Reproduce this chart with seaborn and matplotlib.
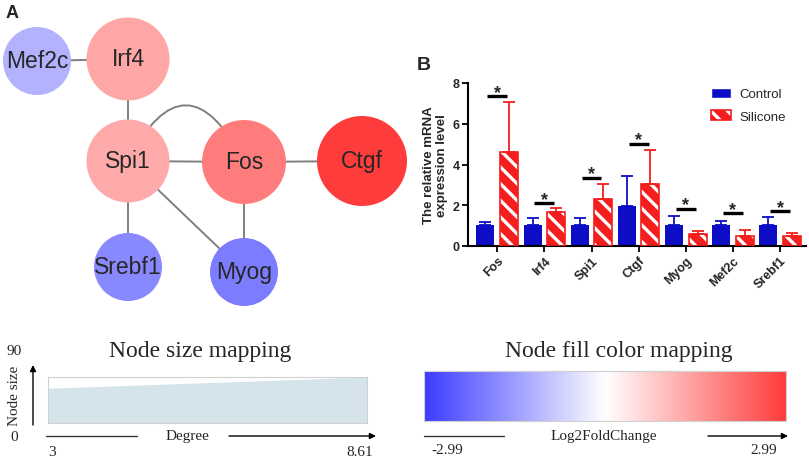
import matplotlib
matplotlib.use("Agg")
import matplotlib.pyplot as plt
import numpy as np
import pandas as pd
import seaborn as sns
from matplotlib.colors import LinearSegmentedColormap, Normalize
from matplotlib.legend_handler import HandlerTuple
from matplotlib.patches import Circle, PathPatch, Patch, Rectangle
from matplotlib.path import Path

# ---- panel B: qPCR data ----
genes = ["Fos", "Irf4", "Spi1", "Ctgf", "Myog", "Mef2c", "Srebf1"]
groups = ["Control", "Silicone"]
control_mean = [1.05, 1.05, 1.05, 1.97, 1.05, 1.05, 1.05]
control_err = [0.15, 0.33, 0.30, 1.47, 0.43, 0.20, 0.37]
silicone_mean = [4.60, 1.68, 2.33, 3.04, 0.57, 0.49, 0.50]
silicone_err = [2.47, 0.17, 0.70, 1.68, 0.18, 0.29, 0.14]
sig_y = [7.35, 2.13, 3.36, 5.03, 1.84, 1.61, 1.72]

# ---- panel A: network ----
nodes = ["Mef2c", "Irf4", "Spi1", "Fos", "Ctgf", "Srebf1", "Myog"]
node_log2fc = [-1.17, 1.36, 1.30, 1.99, 2.99, -1.80, -1.99]
node_degree = [3.0, 6.83, 6.83, 7.08, 8.61, 3.0, 3.0]
edges = [("Mef2c", "Irf4"), ("Irf4", "Spi1"), ("Spi1", "Fos"), ("Fos", "Ctgf"),
         ("Spi1", "Srebf1"), ("Spi1", "Myog"), ("Fos", "Myog")]
curved_edges = [("Spi1", "Fos")]

# mapping legends
degree_range = [3, 8.61]
size_range = [0, 90]
size_mapped = [68, 90]
fc_range = [-2.99, 2.99]

BLUE = "#0d0dc6"
RED = "#f41e1e"
SANS = ["Liberation Sans", "DejaVu Sans"]
SERIF = ["Liberation Serif", "DejaVu Serif"]

sns.set_theme(style="ticks")
plt.rcParams["font.family"] = SANS
plt.rcParams["hatch.linewidth"] = 2.4

W, H = 809, 460
fig = plt.figure(figsize=(W / 100, H / 100), dpi=100)


def px_rect(x0, y0, x1, y1):
    return [x0 / W, 1 - y1 / H, (x1 - x0) / W, (y1 - y0) / H]


# full-figure canvas in pixel units for the network and legend decorations
canvas = fig.add_axes([0, 0, 1, 1])
canvas.set_xlim(0, W)
canvas.set_ylim(H, 0)
canvas.axis("off")

node_xy = {"Mef2c": (37, 62), "Irf4": (128, 60), "Spi1": (128, 162),
           "Fos": (244, 163), "Ctgf": (362, 162), "Srebf1": (128, 268),
           "Myog": (244, 273)}

fc_cmap = LinearSegmentedColormap.from_list("fc", ["#3c3cff", "#ffffff", "#ff3c3c"])
fc_norm = Normalize(*fc_range)

for a, b in edges:
    (x0, y0), (x1, y1) = node_xy[a], node_xy[b]
    canvas.plot([x0, x1], [y0, y1], color="#7f7f7f", lw=1.4, zorder=1)
for a, b in curved_edges:
    (x0, y0), (x1, y1) = node_xy[a], node_xy[b]
    ctrl = ((x0 + x1) / 2, y0 - 112)
    path = Path([(x0, y0), ctrl, (x1, y1)], [Path.MOVETO, Path.CURVE3, Path.CURVE3])
    canvas.add_patch(PathPatch(path, fc="none", ec="#7f7f7f", lw=1.4, zorder=1))

for name, fc, deg in zip(nodes, node_log2fc, node_degree):
    diam = np.interp(deg, degree_range, size_mapped)
    x, y = node_xy[name]
    canvas.add_patch(Circle((x, y), diam / 2, color=fc_cmap(fc_norm(fc)), lw=0, zorder=2))
    canvas.text(x, y, name, fontsize=16.5, ha="center", va="center", zorder=3)

canvas.text(6, 13, "A", fontsize=13, fontweight="bold", va="center")
canvas.text(417, 66, "B", fontsize=14, fontweight="bold", va="center")

# ---- panel B bar chart ----
df = pd.DataFrame({
    "gene": genes * 2,
    "group": [groups[0]] * len(genes) + [groups[1]] * len(genes),
    "value": control_mean + silicone_mean,
})
ax = fig.add_axes(px_rect(468, 84, 806, 247))
sns.barplot(data=df, x="gene", y="value", hue="group", order=genes, hue_order=groups,
            palette=[BLUE, RED], saturation=1, width=1.0, gap=0.24, errorbar=None,
            legend=False, linewidth=0, ax=ax)

for cont, errs, col in zip(ax.containers, [control_err, silicone_err], [BLUE, RED]):
    xs = [b.get_x() + b.get_width() / 2 for b in cont]
    ys = [b.get_height() for b in cont]
    ax.errorbar(xs, ys, yerr=[np.zeros(len(errs)), errs], fmt="none", ecolor=col,
                elinewidth=1.3, capsize=4.5, capthick=1.3, zorder=1)
for b in ax.containers[1]:
    b.set_edgecolor("white")
    b.set_hatch("\\\\")
    b.set_linewidth(0)
    ax.add_patch(Rectangle((b.get_x(), 0), b.get_width(), b.get_height(),
                           fill=False, ec=RED, lw=1.2, zorder=3))

for i, y in enumerate(sig_y):
    ax.plot([i - 0.21, i + 0.21], [y, y], color="black", lw=2.4, solid_capstyle="butt")
    ax.text(i, y - 0.05, "*", fontsize=13, fontweight="bold", ha="center", va="baseline")

ax.set_xlim(-0.62, 6.55)
ax.set_ylim(0, 8)
ax.set_yticks([0, 2, 4, 6, 8])
ax.set_xlabel("")
ax.set_ylabel("The relative mRNA\nexpression level", fontsize=9.5, fontweight="bold", labelpad=3)
ax.tick_params(axis="both", labelsize=9, width=1.3, length=4, color="black", pad=2)
for lab in ax.get_yticklabels():
    lab.set_fontweight("bold")
ax.set_xticks(range(len(genes)))
ax.set_xticklabels(genes, rotation=45, ha="right", rotation_mode="anchor", fontweight="bold")
sns.despine(ax=ax)
for s in ["left", "bottom"]:
    ax.spines[s].set_linewidth(1.5)
    ax.spines[s].set_color("black")
ax.patch.set_alpha(0)

handles = [Patch(facecolor=BLUE),
           (Patch(facecolor=RED, edgecolor="white", hatch="\\\\", lw=0),
            Patch(fill=False, edgecolor=RED, lw=1.2))]
fig.legend(handles, groups, loc="upper left", bbox_to_anchor=(711 / W, 1 - 89 / H),
           frameon=False, fontsize=9.5, handlelength=1.55, handleheight=0.75,
           handletextpad=0.6, labelspacing=0.75, borderpad=0, borderaxespad=0,
           handler_map={tuple: HandlerTuple(ndivide=1)})

# ---- node size mapping legend ----
ax_size = fig.add_axes(px_rect(48, 378, 367, 424))
ax_size.fill_between(degree_range, [0, 0], size_mapped, color="#d5e3ea", lw=0)
ax_size.set_xlim(*degree_range)
ax_size.set_ylim(*size_range)
ax_size.set_xticks([])
ax_size.set_yticks([])
for s in ax_size.spines.values():
    s.set_color("#d0d0d0")
    s.set_linewidth(0.8)

arrow = dict(arrowstyle="-|>", color="black", lw=1.0, mutation_scale=9, shrinkA=0, shrinkB=0)
canvas.annotate("", xy=(33, 366), xytext=(33, 426), arrowprops=arrow)
canvas.plot([46, 137], [437, 437], color="#333333", lw=1.0)
canvas.annotate("", xy=(376, 437), xytext=(229, 437), arrowprops=arrow)
canvas.text(200, 352, "Node size mapping", family=SERIF, fontsize=17, ha="center", va="center")
canvas.text(14, 352, f"{size_range[1]}", family=SERIF, fontsize=11, ha="center", va="center")
canvas.text(14, 438, f"{size_range[0]}", family=SERIF, fontsize=11, ha="center", va="center")
canvas.text(15, 396, "Node size", family=SERIF, fontsize=11, rotation=90, ha="center", va="center")
canvas.text(187, 437, "Degree", family=SERIF, fontsize=11, ha="center", va="center")
canvas.text(52, 453, f"{degree_range[0]:g}", family=SERIF, fontsize=11, ha="center", va="center")
canvas.text(360, 453, f"{degree_range[1]:g}", family=SERIF, fontsize=11, ha="center", va="center")

# ---- node fill colour mapping legend ----
ax_cb = fig.add_axes(px_rect(424, 372, 786, 422))
grad = np.linspace(fc_range[0], fc_range[1], 256)[None, :]
ax_cb.imshow(grad, cmap=fc_cmap, norm=fc_norm, aspect="auto",
             extent=[fc_range[0], fc_range[1], 0, 1])
ax_cb.set_xticks([])
ax_cb.set_yticks([])
for s in ax_cb.spines.values():
    s.set_color("#d0d0d0")
    s.set_linewidth(0.8)

canvas.plot([424, 504], [437, 437], color="#333333", lw=1.0)
canvas.annotate("", xy=(788, 437), xytext=(708, 437), arrowprops=arrow)
canvas.text(619, 352, "Node fill color mapping", family=SERIF, fontsize=17, ha="center", va="center")
canvas.text(604, 437, "Log2FoldChange", family=SERIF, fontsize=11, ha="center", va="center")
canvas.text(447, 451, f"{fc_range[0]:.2f}", family=SERIF, fontsize=11, ha="center", va="center")
canvas.text(764, 451, f"{fc_range[1]:.2f}", family=SERIF, fontsize=11, ha="center", va="center")

fig.savefig("out.png", dpi=100)
